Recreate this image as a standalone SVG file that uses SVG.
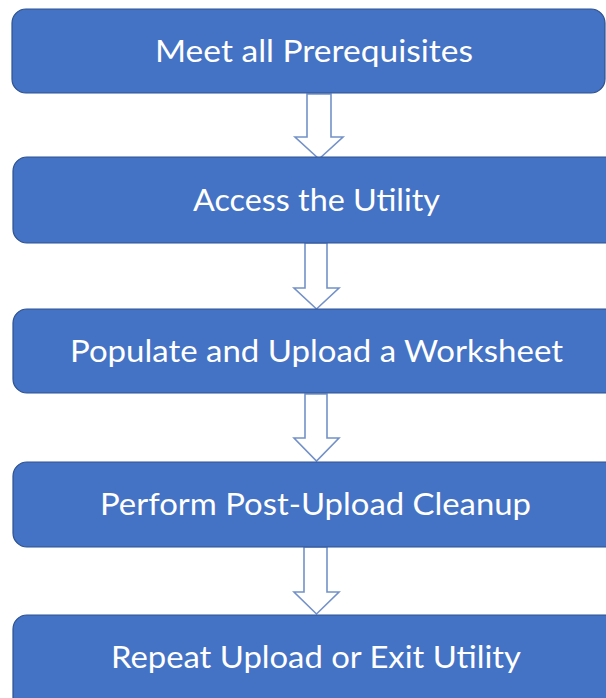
<svg xmlns="http://www.w3.org/2000/svg" width="606" height="698" viewBox="0 0 606 698">
  <style>
    .box { fill: #4472C4; stroke: #2F528F; stroke-width: 1.2; }
    .lbl { fill: #FFFFFF; font-family: Lato, "Open Sans", "Liberation Sans", sans-serif; font-size: 31px; text-anchor: middle; }
    .arrow { fill: #FFFFFF; stroke: #7391C8; stroke-width: 1.6; stroke-linejoin: miter; }
  </style>
  <rect x="0" y="0" width="606" height="698" fill="#FFFFFF"/>

  <g id="connectors">
    <path class="arrow" d="M307,94 H331 V137 H343 L319,159 L295,137 H307 Z"/>
    <path class="arrow" d="M305,243 H327 V288 H339 L316.5,309 L294,288 H305 Z"/>
    <path class="arrow" d="M305,394 H327 V438 H339 L316.5,461 L294,438 H305 Z"/>
    <path class="arrow" d="M304,547 H327 V592 H339 L316.5,614 L294,592 H304 Z"/>
  </g>

  <g id="step1">
    <rect class="box" x="12" y="9" width="593" height="84" rx="14"/>
    <text class="lbl" x="314" y="62" textLength="318" lengthAdjust="spacingAndGlyphs">Meet all Prerequisites</text>
  </g>
  <g id="step2">
    <rect class="box" x="13" y="157" width="620" height="86" rx="14"/>
    <text class="lbl" x="316.5" y="211" textLength="247" lengthAdjust="spacingAndGlyphs">Access the Utility</text>
  </g>
  <g id="step3">
    <rect class="box" x="13" y="309" width="620" height="84" rx="14"/>
    <text class="lbl" x="316.5" y="362" textLength="493" lengthAdjust="spacingAndGlyphs">Populate and Upload a Worksheet</text>
  </g>
  <g id="step4">
    <rect class="box" x="13" y="462" width="620" height="85" rx="14"/>
    <text class="lbl" x="315.5" y="515" textLength="431" lengthAdjust="spacingAndGlyphs">Perform Post-Upload Cleanup</text>
  </g>
  <g id="step5">
    <rect class="box" x="13" y="615" width="620" height="100" rx="14"/>
    <text class="lbl" x="316" y="668" textLength="410" lengthAdjust="spacingAndGlyphs">Repeat Upload or Exit Utility</text>
  </g>
</svg>
